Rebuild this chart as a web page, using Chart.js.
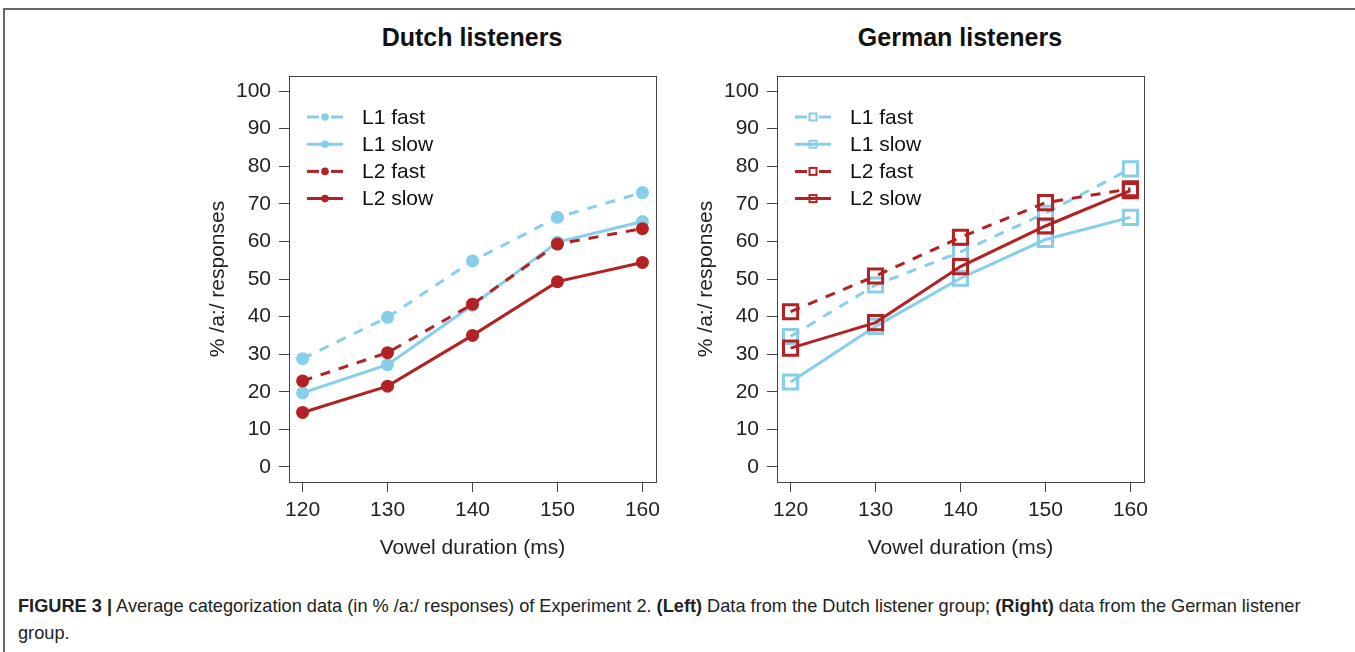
<!DOCTYPE html>
<html>
<head>
<meta charset="utf-8">
<script src="https://cdn.jsdelivr.net/npm/chart.js@4.4.1/dist/chart.umd.min.js"></script>
<style>
  body { margin: 0; width: 1355px; height: 652px; background: #fff; position: relative; overflow: hidden;
         font-family: "Liberation Sans", Arial, sans-serif; }
  .frame { position: absolute; left: 3px; top: 8px; width: 1400px; height: 700px;
           border-top: 2px solid #666; border-left: 2px solid #666; }
  .title { position: absolute; top: 22px; width: 400px; text-align: center; line-height: 30px;
           font-size: 25px; font-weight: bold; color: #111; }
  .chartbox { position: absolute; top: 60px; width: 490px; height: 510px; }
  .caption { position: absolute; left: 18px; top: 593px; font-size: 18.2px; line-height: 27px; color: #222; }
</style>
</head>
<body>
<div class="frame"></div>
<div class="title" style="left:272px">Dutch listeners</div>
<div class="title" style="left:760px">German listeners</div>
<div class="chartbox" style="left:190px"><canvas id="dutchChart" width="490" height="510"></canvas></div>
<div class="chartbox" style="left:678px"><canvas id="germanChart" width="490" height="510"></canvas></div>
<div class="caption"><b>FIGURE 3 |</b> Average categorization data (in % /a:/ responses) of Experiment 2. <b>(Left)</b> Data from the Dutch listener group; <b>(Right)</b> data from the German listener<br>group.</div>

<script>
// Data
const xTicks = [120, 130, 140, 150, 160];
const yTicks = [0, 10, 20, 30, 40, 50, 60, 70, 80, 90, 100];
const seriesNames = ["L1 fast", "L1 slow", "L2 fast", "L2 slow"];

const dutchL1Fast = [28.8, 39.8, 54.8, 66.4, 73.0];
const dutchL1Slow = [19.7, 27.2, 43.0, 59.8, 65.3];
const dutchL2Fast = [22.9, 30.4, 43.3, 59.3, 63.4];
const dutchL2Slow = [14.5, 21.5, 35.0, 49.3, 54.4];

const germanL1Fast = [34.7, 48.4, 57.2, 67.5, 79.3];
const germanL1Slow = [22.6, 37.4, 50.2, 60.5, 66.4];
const germanL2Fast = [41.3, 50.8, 61.1, 70.3, 74.0];
const germanL2Slow = [31.6, 38.4, 53.3, 64.1, 73.5];

const FONT = "'Liberation Sans', Arial, sans-serif";
const BLUE = "#87CEEB";
const RED = "#B22222";
const seriesColors = [BLUE, BLUE, RED, RED];
const seriesFast = [true, false, true, false];

// box round the plot area + legend in the top left corner
const boxAndLegend = {
  id: "boxAndLegend",
  afterDraw(chart) {
    const ctx = chart.ctx;
    const a = chart.chartArea;
    ctx.save();
    ctx.strokeStyle = "#444";
    ctx.lineWidth = 1;
    ctx.strokeRect(Math.round(a.left) + 0.5, Math.round(a.top) + 0.5,
                   Math.round(a.right - a.left), Math.round(a.bottom - a.top));

    const square = chart.options.plugins.boxAndLegend.square;
    chart.data.datasets.forEach((ds, i) => {
      const y = a.top + 41 + i * 27.2;
      const x0 = a.left + 18;
      ctx.strokeStyle = ds.borderColor;
      ctx.lineWidth = 3;
      ctx.setLineDash(seriesFast[i] ? [12, 12] : []);
      ctx.beginPath();
      ctx.moveTo(x0, y);
      ctx.lineTo(x0 + 36, y);
      ctx.stroke();
      ctx.setLineDash([]);
      if (square) {
        ctx.lineWidth = 2;
        ctx.strokeRect(x0 + 18 - 3.5, y - 3.5, 7, 7);
      } else {
        ctx.fillStyle = ds.borderColor;
        ctx.beginPath();
        ctx.arc(x0 + 18, y, 3.8, 0, Math.PI * 2);
        ctx.fill();
      }
      ctx.fillStyle = "#111";
      ctx.font = "21px " + FONT;
      ctx.textBaseline = "middle";
      ctx.textAlign = "left";
      ctx.fillText(ds.label, a.left + 73, y + 1);
    });
    ctx.restore();
  }
};

function makeChart(canvasId, seriesValues, square) {
  const datasets = seriesValues.map((vals, i) => ({
    label: seriesNames[i],
    data: xTicks.map((x, j) => ({ x: x, y: vals[j] })),
    borderColor: seriesColors[i],
    backgroundColor: seriesColors[i],
    borderWidth: 3,
    borderDash: seriesFast[i] ? [10, 9] : [],
    tension: 0,
    fill: false,
    pointStyle: square ? "rect" : "circle",
    pointRadius: square ? 10 : 6.5,
    pointBorderWidth: square ? 3 : 0,
    pointBorderColor: seriesColors[i],
    pointBackgroundColor: square ? "rgba(0,0,0,0)" : seriesColors[i],
    order: 3 - i
  }));

  const ctx = document.getElementById(canvasId).getContext("2d");
  return new Chart(ctx, {
    type: "line",
    data: { datasets: datasets },
    options: {
      responsive: false,
      animation: false,
      events: [],
      layout: { padding: { top: 16, right: 24, bottom: 0, left: 0 } },
      scales: {
        x: {
          type: "linear",
          min: 118.4,
          max: 161.6,
          afterBuildTicks: s => { s.ticks = xTicks.map(v => ({ value: v })); },
          afterFit: s => { s.height = 88; s.paddingLeft = 0; s.paddingRight = 0; },
          grid: { drawOnChartArea: false, drawTicks: true, tickLength: 10, color: "#444", lineWidth: 1 },
          border: { display: true, color: "#444", width: 1 },
          ticks: { color: "#222", font: { size: 21, family: FONT }, padding: 6, maxRotation: 0, autoSkip: false },
          title: { display: true, text: "Vowel duration (ms)", color: "#222",
                   font: { size: 21, family: FONT }, padding: { top: 0, bottom: 9 } }
        },
        y: {
          type: "linear",
          min: -4,
          max: 104,
          afterBuildTicks: s => { s.ticks = yTicks.map(v => ({ value: v })); },
          afterFit: s => { s.width = 99; s.paddingTop = 0; s.paddingBottom = 0; },
          grid: { drawOnChartArea: false, drawTicks: true, tickLength: 10, color: "#444", lineWidth: 1 },
          border: { display: true, color: "#444", width: 1 },
          ticks: { color: "#222", font: { size: 21, family: FONT }, padding: 8, autoSkip: false },
          title: { display: true, text: "% /a:/ responses", color: "#222",
                   font: { size: 21, family: FONT }, padding: { top: 16, bottom: 0 } }
        }
      },
      plugins: {
        legend: { display: false },
        tooltip: { enabled: false },
        boxAndLegend: { square: square }
      }
    },
    plugins: [boxAndLegend]
  });
}

makeChart("dutchChart", [dutchL1Fast, dutchL1Slow, dutchL2Fast, dutchL2Slow], false);
makeChart("germanChart", [germanL1Fast, germanL1Slow, germanL2Fast, germanL2Slow], true);
</script>
</body>
</html>
